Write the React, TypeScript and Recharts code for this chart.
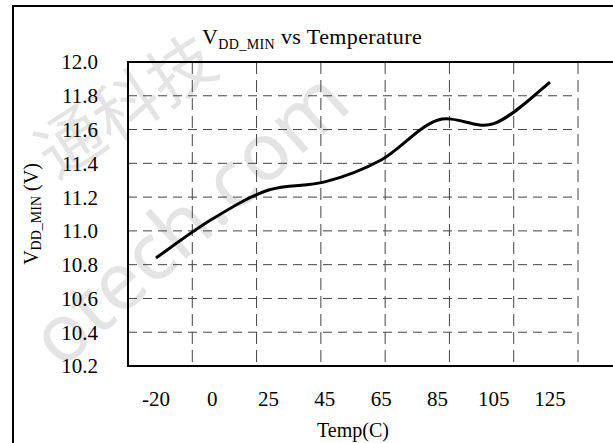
import React from 'react';
import {
    LineChart, Line, XAxis, YAxis, CartesianGrid, ReferenceArea,
} from 'recharts';

const temps = ['-20', '0', '25', '45', '65', '85', '105', '125'];
const vddMin = [10.84, 11.07, 11.242, 11.29, 11.42, 11.655, 11.635, 11.88];
const yTicks = [10.2, 10.4, 10.6, 10.8, 11.0, 11.2, 11.4, 11.6, 11.8, 12.0];
const gridCols = [0, 1, 2, 3, 4, 5, 6, 7, 8];

const data = temps.map((t, i) => ({ temp: t, vdd: vddMin[i] }));

const FONT = '"Liberation Serif", "DejaVu Serif", serif';

// smoothed line like the spreadsheet one (catmull-rom through every point)
const smoothCurve = (ctx: any) => {
    let pts: number[][] = [];
    return {
        areaStart() {},
        areaEnd() {},
        lineStart() { pts = []; },
        point(x: number, y: number) { pts.push([+x, +y]); },
        lineEnd() {
            if (!pts.length) return;
            ctx.moveTo(pts[0][0], pts[0][1]);
            for (let i = 0; i < pts.length - 1; i++) {
                const p0 = pts[i - 1] || pts[i];
                const p1 = pts[i];
                const p2 = pts[i + 1];
                const p3 = pts[i + 2] || p2;
                ctx.bezierCurveTo(
                    p1[0] + (p2[0] - p0[0]) / 6, p1[1] + (p2[1] - p0[1]) / 6,
                    p2[0] - (p3[0] - p1[0]) / 6, p2[1] - (p3[1] - p1[1]) / 6,
                    p2[0], p2[1],
                );
            }
        },
    };
};

const YLabel = (props: any) => {
    const { viewBox } = props;
    const x = viewBox.x - 37;
    const y = viewBox.y + viewBox.height / 2;
    return (
        <text x={x} y={y} transform={`rotate(-90 ${x} ${y})`} textAnchor="middle"
            dominantBaseline="central" fontFamily={FONT} fontSize={20} fill="#000">
            V<tspan fontSize={14} dy={5}>DD_MIN</tspan><tspan dy={-5}> (V)</tspan>
        </text>
    );
};

const App: React.FC = () => {
    return (
        <div style={{ position: 'absolute', left: 0, top: 0, width: 613, height: 443, overflow: 'hidden', background: '#fff' }}>
            {/* faint watermark */}
            <div style={{ position: 'absolute', left: 22, top: 128, fontSize: 66, color: '#e4e4e4', fontFamily: '"Noto Sans CJK SC", sans-serif', transform: 'rotate(-33deg)', transformOrigin: 'left top', whiteSpace: 'nowrap', lineHeight: 1 }}>
                通科技
            </div>
            <div style={{ position: 'absolute', left: 14, top: 318, fontSize: 80, color: '#e4e4e4', fontFamily: '"Noto Sans", sans-serif', transform: 'rotate(-42deg)', transformOrigin: 'left top', whiteSpace: 'nowrap', lineHeight: 1 }}>
                otech.com
            </div>
            <div style={{ position: 'absolute', left: 12, top: 5, width: 700, height: 500, borderLeft: '2px solid #000', borderTop: '2px solid #000' }} />
            <div style={{ position: 'absolute', left: 0, width: 624, top: 24, textAlign: 'center', fontFamily: FONT, fontSize: 22, color: '#000', letterSpacing: 0.4 }}>
                V<sub style={{ fontSize: 14, verticalAlign: -5 }}>DD_MIN</sub> vs Temperature
            </div>
            <div style={{ position: 'absolute', left: 0, top: 0 }}>
                <LineChart width={613} height={443} data={data}
                    margin={{ top: 62, right: 35, bottom: 4, left: 68 }}>
                    <CartesianGrid xAxisId="grid" horizontal={false} stroke="#444" strokeDasharray="12 6" />
                    <CartesianGrid xAxisId="grid" vertical={false} stroke="#444" strokeDasharray="9 6" />
                    <XAxis xAxisId="grid" type="number" domain={[0, 8]} ticks={gridCols} hide />
                    <XAxis dataKey="temp" padding={{ left: 28, right: 28 }} height={73}
                        axisLine={false} tickLine={false} tickSize={0} tickMargin={25}
                        tick={{ fontFamily: FONT, fontSize: 21, fill: '#000' }}
                        label={{ value: 'Temp(C)', position: 'insideBottom', offset: 2, fontFamily: FONT, fontSize: 20, fill: '#000' }} />
                    <YAxis domain={[10.2, 12.0]} ticks={yTicks} width={60}
                        axisLine={false} tickLine={false} tickSize={0} tickMargin={30}
                        tickFormatter={(v: number) => v.toFixed(1)}
                        tick={{ fontFamily: FONT, fontSize: 21, fill: '#000' }}
                        label={<YLabel />} />
                    <ReferenceArea xAxisId="grid" x1={0} x2={8} y1={10.2} y2={12.0}
                        fill="none" stroke="#000" strokeWidth={2} ifOverflow="visible" />
                    <Line dataKey="vdd" type={smoothCurve as any} stroke="#000" strokeWidth={3}
                        dot={false} activeDot={false} isAnimationActive={false} />
                </LineChart>
            </div>
        </div>
    );
};

export default App;
